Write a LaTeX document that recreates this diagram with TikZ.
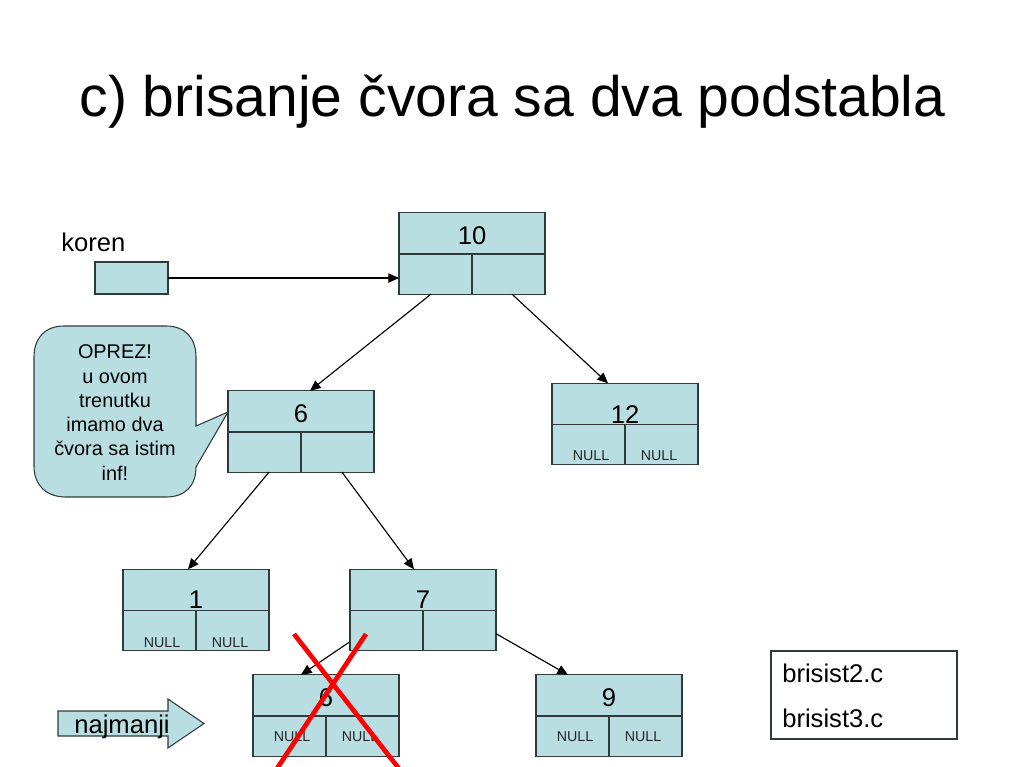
\documentclass[tikz,border=0pt]{standalone}
\usepackage{fontspec}
\setmainfont{Liberation Sans}
\usetikzlibrary{arrows.meta,calc}
\definecolor{boxfill}{HTML}{B9DEE2}
\definecolor{boxline}{HTML}{2F3B3D}
\tikzset{
  treebox/.style={draw=boxline,fill=boxfill,line width=0.8pt,minimum width=109.5pt,minimum height=61pt,inner sep=0pt,outer sep=0pt},
  divider/.style={draw=boxline,line width=0.8pt},
  conn/.style={draw=black,line width=0.85pt,-{Triangle[length=8pt,width=7pt]}},
  redx/.style={draw=red,line width=3.5pt},
  nodelabel/.style={font=\fontsize{19.2}{23}\selectfont,text=black,inner sep=0pt},
  nulllabel/.style={font=\fontsize{10.7}{13}\selectfont,text=black!85,inner sep=0pt},
  bigtext/.style={font=\fontsize{19.2}{23}\selectfont,text=black,inner sep=0pt},
}
% name, x, y, label dy, label
\newcommand{\treenode}[5]{%
  \node[treebox] (#1) at (#2,#3) {};
  \draw[divider] ($(#1.west)+(0,0.5)$) -- ($(#1.east)+(0,0.5)$);
  \draw[divider] ($(#1.center)+(0,0.5)$) -- (#1.south);
  \node[nodelabel] (#1lab) at ($(#1.center)+(0,#4)$) {#5};
}
% name, dy
\newcommand{\nullpair}[2]{%
  \node[nulllabel] (#1nl) at ($(#1.center)+(-34,#2)$) {NULL};
  \node[nulllabel] (#1nr) at ($(#1.center)+(34,#2)$) {NULL};
}
\begin{document}
\begin{tikzpicture}[x=0.75pt,y=-0.75pt]
\useasboundingbox (0,0) rectangle (1024,767);
\fill[white] (0,0) rectangle (1024,767);
\node[font=\fontsize{42.8}{50}\selectfont,text=black,inner sep=0pt,anchor=base] (title) at (512.5,117) {c) brisanje čvora sa dva podstabla};

\node[bigtext,anchor=base west] (korenlab) at (61,251.5) {koren};
\node[draw=boxline,fill=boxfill,line width=0.8pt,minimum width=54.75pt,minimum height=24pt,inner sep=0pt,outer sep=0pt] (koren) at (131.5,278) {};

\treenode{n10}{472}{253.5}{-18}{10}
\treenode{n6}{301}{431.5}{-18}{6}
\treenode{n12}{625}{424}{-9.5}{12}
\treenode{n1}{196}{610}{-10.5}{1}
\treenode{n7}{423}{610}{-10.5}{7}
\treenode{n6b}{326}{715.5}{-18}{6}
\treenode{n9}{609}{715.5}{-18}{9}
\nullpair{n12}{32}\nullpair{n1}{32.5}\nullpair{n6b}{21.5}\nullpair{n9}{21.5}

\draw[conn] (koren.east) -- (koren.east -| n10.west);
\draw[conn] ($(n10.south)+(-41,0)$) -- ($(n6.north)+(9,0)$);
\draw[conn] ($(n10.south)+(40,0)$) -- ($(n12.north)+(-17,0)$);
\draw[conn] ($(n6.south)+(-32,0)$) -- ($(n1.north)+(-8,0)$);
\draw[conn] ($(n6.south)+(41,0)$) -- ($(n7.north)+(-9,0)$);
\draw[conn] ($(n7.south west)+(0,-9)$) -- ($(n6b.north)+(-25,0)$);
\draw[conn] ($(n7.south east)+(0,-17)$) -- ($(n9.north)+(-41,0)$);

% callout
\draw[draw=boxline,fill=boxfill,line width=0.8pt] (64,326) -- (166,326)
  .. controls (185,326) and (196,338) .. (196,357) -- (196,426) -- (228,412) -- (196,467)
  .. controls (196,486) and (185,497) .. (166,497) -- (66,497)
  .. controls (46,497) and (34,485) .. (34,466) -- (34,357)
  .. controls (34,338) and (45,326) .. (64,326) -- cycle;
\node[align=center,inner sep=0pt,anchor=center,font=\fontsize{14.9}{18.2}\selectfont,text=black] (warn) at (115,412.5) {OPREZ!\\u ovom\\trenutku\\imamo dva\\čvora sa istim\\inf!};

% arrow
\draw[draw=boxline,fill=boxfill,line width=0.8pt] (58,711) -- (168,711) -- (168,699) -- (204,723.5) -- (168,748) -- (168,736) -- (58,736) -- cycle;
\node[bigtext] (naj) at (122,726.5) {najmanji};

% file box
\node[draw=boxline,fill=white,line width=0.8pt,minimum width=139.5pt,minimum height=66pt,inner sep=0pt,outer sep=0pt] (files) at (864,695) {};
\node[bigtext,anchor=base west] (f1) at (782,682) {brisist2.c};
\node[bigtext,anchor=base west] (f2) at (782,727) {brisist3.c};

% red cross
\coordinate (xa) at (294,634);
\coordinate (xb) at (400,770);
\coordinate (xc) at (366,634);
\coordinate (xd) at (276,770);
\draw[redx] (xa) -- (xb);
\draw[redx] (xc) -- (xd);
\end{tikzpicture}
\end{document}
